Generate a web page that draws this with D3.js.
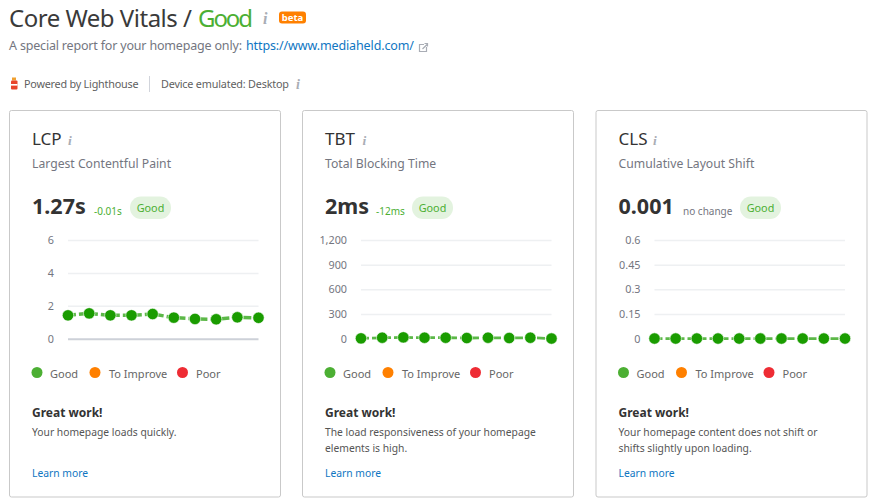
<!DOCTYPE html>
<html>
<head>
<meta charset="utf-8">
<script src="https://cdn.jsdelivr.net/npm/d3@7/dist/d3.min.js"></script>
<style>
html, body { margin: 0; background: #fff; overflow: hidden; }
text { font-family: "Noto Sans", "Open Sans", sans-serif; }
</style>
</head>
<body>
<script>
// values
var names = ['LCP', 'TBT', 'CLS'];
var fullNames = ['Largest Contentful Paint', 'Total Blocking Time', 'Cumulative Layout Shift'];
var scores = ['1.27s', '2ms', '0.001'];
var deltas = ['-0.01s', '-12ms', 'no change'];
var lcpValues = [1.42, 1.54, 1.42, 1.42, 1.5, 1.28, 1.2, 1.18, 1.3, 1.27];
var tbtValues = [4, 12, 16, 12, 12, 8, 12, 8, 12, 2];
var clsValues = [0.001, 0.001, 0.001, 0.001, 0.001, 0.001, 0.001, 0.001, 0.001, 0.001];
var lcpTicks = [0, 2, 4, 6];
var tbtTicks = [0, 300, 600, 900, 1200];
var clsTicks = [0, 0.15, 0.3, 0.45, 0.6];
var legendNames = ['Good', 'To Improve', 'Poor'];
var legendColors = ['#4caf33', '#ff8000', '#ee2c34'];
var messages = [
  ['Your homepage loads quickly.'],
  ['The load responsiveness of your homepage', 'elements is high.'],
  ['Your homepage content does not shift or', 'shifts slightly upon loading.']
];

var seriesList = [lcpValues, tbtValues, clsValues];
var tickList = [lcpTicks, tbtTicks, clsTicks];
var cardX = [9.5, 302.5, 596];
var cardW = 271;
var cardY = 110.5;
var cardH = 386.5;
// offsets inside a card
var infoX = [58.5, 60, 57];
var deltaX = [84.5, 73.5, 87];
var pillX = [120.5, 109.5, 144];
var legendDot = [27.5, 85.5, 173];
var legendText = [40.5, 99.5, 186.5];

var dark = '#333';
var grey = '#74767f';
var green = '#4caf33';
var blue = '#0f76c2';

var svg = d3.select('body').append('svg').attr('width', 877).attr('height', 504);

function label(g, x, y, str, size, color, weight, anchor) {
  return g.append('text')
    .attr('x', x)
    .attr('y', y)
    .attr('font-size', size)
    .attr('fill', color)
    .attr('font-weight', weight || 400)
    .attr('text-anchor', anchor || 'start')
    .text(str);
}

// the little grey italic "i"
function infoIcon(g, x, y, size) {
  g.append('text')
    .attr('x', x)
    .attr('y', y)
    .attr('font-size', size)
    .attr('font-style', 'italic')
    .attr('font-weight', 700)
    .attr('fill', '#a9adb5')
    .style('font-family', '"Liberation Serif", serif')
    .text('i');
}

// header
label(svg, 9, 27, 'Core Web Vitals /', 24, '#3a3a3a').attr('textLength', 183);
label(svg, 198, 27, 'Good', 24, green).attr('textLength', 55);
infoIcon(svg, 263, 24, 16);
svg.append('rect').attr('x', 279).attr('y', 11.5).attr('width', 27).attr('height', 12).attr('rx', 3).attr('fill', '#ff8000');
label(svg, 292.5, 21, 'beta', 9.5, '#fff', 700, 'middle');
label(svg, 9, 50, 'A special report for your homepage only:', 12.5, grey).attr('textLength', 233);
label(svg, 246, 50, 'https://www.mediaheld.com/', 12.5, blue).attr('textLength', 168);

// external link icon
svg.append('path')
  .attr('d', 'M424 44.5h-4.5v7h7V47M422.5 49l4.5-4.5M424.5 43.5h3v3')
  .attr('fill', 'none')
  .attr('stroke', '#a9adb5')
  .attr('stroke-width', 1.2);

// lighthouse icon
svg.append('rect').attr('x', 12).attr('y', 77.5).attr('width', 4).attr('height', 3).attr('fill', '#f0a030');
svg.append('rect').attr('x', 11).attr('y', 80.5).attr('width', 6.5).attr('height', 9).attr('rx', 1).attr('fill', '#e8442c');
svg.append('rect').attr('x', 11).attr('y', 84).attr('width', 6.5).attr('height', 1.6).attr('fill', '#fff');

label(svg, 24, 88, 'Powered by Lighthouse', 10.8, '#5f5f5f').attr('textLength', 114.5);
svg.append('line').attr('x1', 149.5).attr('x2', 149.5).attr('y1', 76).attr('y2', 92).attr('stroke', '#d1d4db');
label(svg, 161, 88, 'Device emulated: Desktop', 10.8, '#5f5f5f').attr('textLength', 128);
infoIcon(svg, 296, 89, 14);

// one card per metric
names.forEach(function(name, k) {
  var g = svg.append('g').attr('transform', 'translate(' + cardX[k] + ',' + cardY + ')');
  g.append('rect')
    .attr('width', cardW)
    .attr('height', cardH)
    .attr('rx', 2)
    .attr('fill', '#fff')
    .attr('stroke', '#c9c9c9');

  label(g, 22.5, 34.5, name, 17, dark);
  infoIcon(g, infoX[k], 34.5, 13.5);
  label(g, 22.5, 57, fullNames[k], 12.2, grey);

  // score line
  label(g, 22.5, 103.5, scores[k], 21.5, dark, 700);
  label(g, deltaX[k], 104, deltas[k], 10, k === 2 ? grey : green);
  g.append('rect').attr('x', pillX[k]).attr('y', 86).attr('width', 41).attr('height', 22.5).attr('rx', 11).attr('fill', '#e3f3df');
  label(g, pillX[k] + 20.5, 101, 'Good', 10.8, green, 400, 'middle');

  // plot
  var plotX = cardX[k] + 58.5;
  var plot = svg.append('g');
  var x = d3.scaleLinear().domain([0, seriesList[k].length - 1]).range([plotX, plotX + 190.5]);
  var y = d3.scaleLinear().domain([0, d3.max(tickList[k])]).range([338.7, 240]);

  var axis = d3.axisLeft(y)
    .tickValues(tickList[k])
    .tickSize(-190.5)
    .tickPadding(14)
    .tickFormat(d3.format(','));
  var ag = plot.append('g').attr('transform', 'translate(' + plotX + ',0)').call(axis);
  ag.select('.domain').remove();
  ag.selectAll('.tick line')
    .attr('stroke', function(d) { return d === 0 && k === 0 ? '#cdd1d8' : '#eef0f2'; })
    .attr('stroke-width', function(d) { return d === 0 ? 2 : 1.5; })
    .attr('opacity', function(d) { return d === 0 && k !== 0 ? 0 : 1; });
  ag.selectAll('.tick text')
    .attr('fill', grey)
    .attr('font-size', 10.8)
    .style('font-family', '"Noto Sans", sans-serif');

  var line = d3.line()
    .x(function(d, i) { return x(i); })
    .y(function(d) { return y(d); });

  plot.append('path')
    .datum(seriesList[k])
    .attr('d', line)
    .attr('fill', 'none')
    .attr('stroke', '#5cb848')
    .attr('stroke-width', k === 0 ? 3.5 : 2.8)
    .attr('stroke-dasharray', '8,3');

  plot.selectAll('circle').data(seriesList[k]).enter().append('circle')
    .attr('cx', function(d, i) { return x(i); })
    .attr('cy', function(d) { return y(d); })
    .attr('r', 5.7)
    .attr('fill', '#1a9c00')
    .attr('stroke', '#fff')
    .attr('stroke-width', 0.6);

  // legend
  legendNames.forEach(function(ln, j) {
    g.append('circle')
      .attr('cx', legendDot[j])
      .attr('cy', 262)
      .attr('r', 5.5)
      .attr('fill', legendColors[j]);
    label(g, legendText[j], 267.5, ln, 11, '#666');
  });

  // message
  label(g, 22.5, 306, 'Great work!', 12, dark, 700);
  messages[k].forEach(function(m, j) {
    label(g, 22.5, 325.5 + j * 16, m, 10.3, '#555');
  });
  label(g, 22.5, 366.5, 'Learn more', 10.3, blue);
});
</script>
</body>
</html>
